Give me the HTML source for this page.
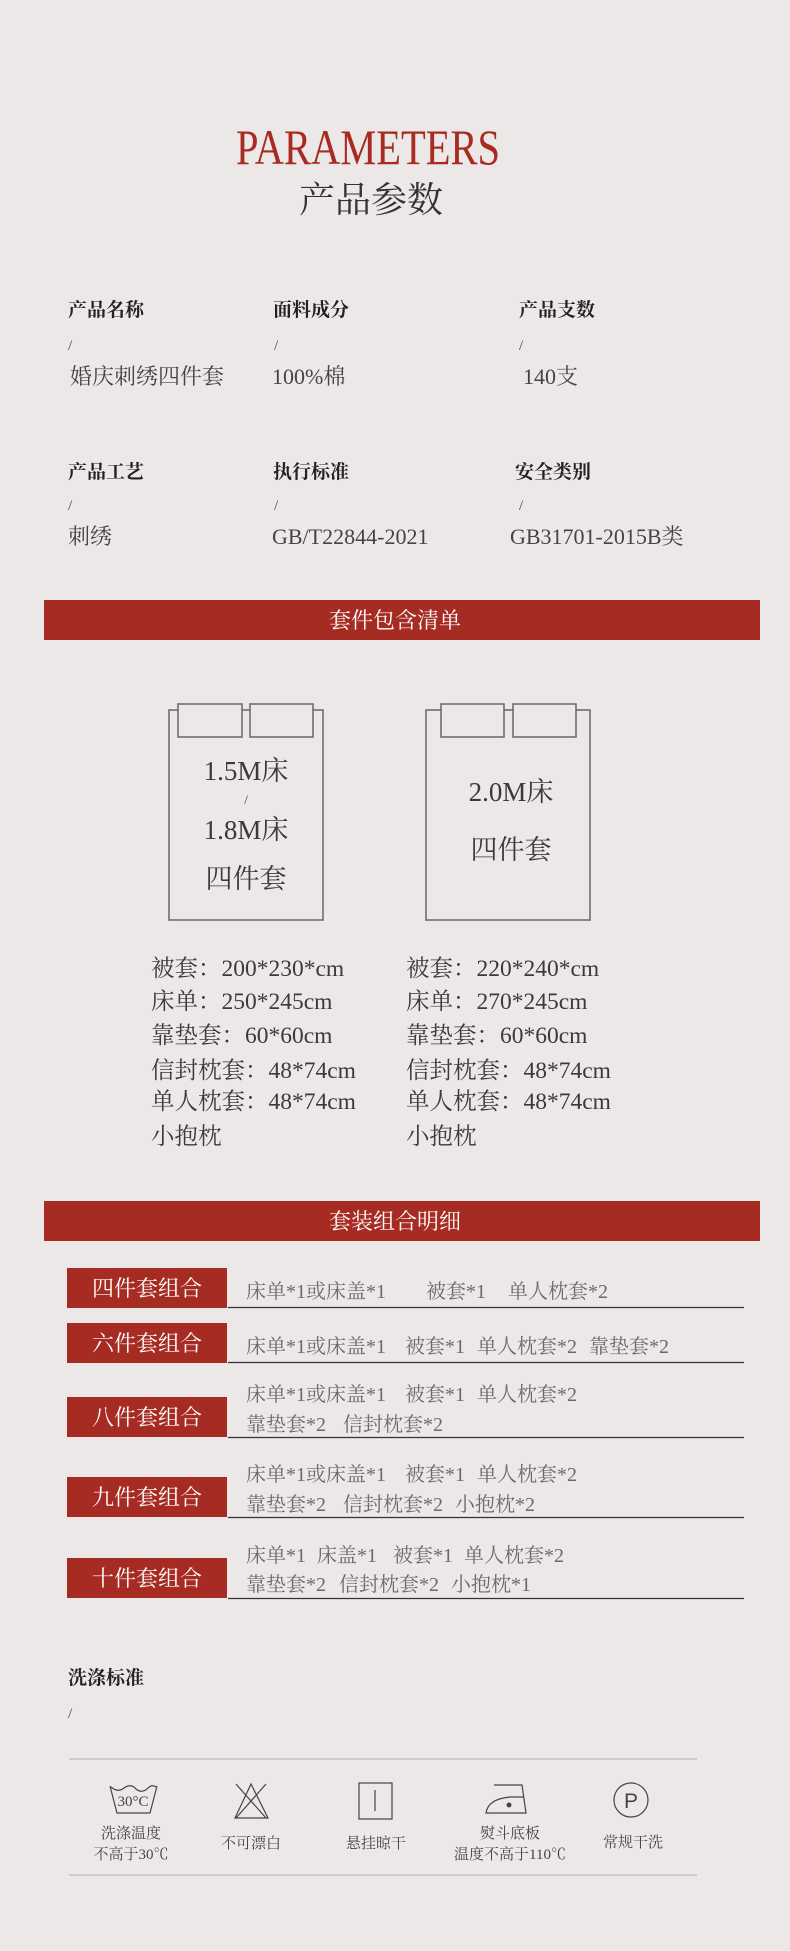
<!DOCTYPE html>
<html><head><meta charset="utf-8">
<style>
html,body{margin:0;padding:0;background:#ece8e7;}
svg{display:block;}
.s{font-family:"Liberation Serif","Noto Serif CJK SC",serif;}
.lb{font-family:"Liberation Serif","Noto Serif CJK SC",serif;font-weight:bold;font-size:19px;fill:#222;}
.v{font-family:"Liberation Serif","Noto Serif CJK SC",serif;font-size:22px;fill:#444;}
.sl{font-family:"Liberation Serif",serif;font-size:15px;fill:#444;}
.sp{font-family:"Liberation Serif","Noto Serif CJK SC",serif;font-size:23.5px;fill:#3a3a3a;}
.cb{font-family:"Liberation Serif","Noto Serif CJK SC",serif;font-size:20px;fill:#6a6a6a;}
.wl{font-family:"Liberation Serif","Noto Serif CJK SC",serif;font-size:22px;fill:#fff;}
.ic{font-family:"Liberation Serif","Noto Serif CJK SC",serif;font-size:15px;fill:#444;}
</style></head>
<body>
<svg width="790" height="1951" viewBox="0 0 790 1951" xmlns="http://www.w3.org/2000/svg">
<rect width="790" height="1951" fill="#ece8e7"/>
<text x="236" y="164" class="s" font-size="50" fill="#a82a22" textLength="264" lengthAdjust="spacingAndGlyphs">PARAMETERS</text>
<text x="371" y="212" class="s" font-size="36" fill="#333" text-anchor="middle">产品参数</text>

<text x="68" y="316" class="lb">产品名称</text>
<text x="273" y="316" class="lb">面料成分</text>
<text x="519" y="316" class="lb">产品支数</text>
<text x="68" y="350" class="sl">/</text><text x="274" y="350" class="sl">/</text><text x="519" y="350" class="sl">/</text>
<text x="70" y="384" class="v">婚庆刺绣四件套</text>
<text x="272" y="384" class="v">100%棉</text>
<text x="523" y="384" class="v">140支</text>

<text x="68" y="478" class="lb">产品工艺</text>
<text x="273" y="478" class="lb">执行标准</text>
<text x="515" y="478" class="lb">安全类别</text>
<text x="68" y="510" class="sl">/</text><text x="274" y="510" class="sl">/</text><text x="519" y="510" class="sl">/</text>
<text x="68" y="544" class="v">刺绣</text>
<text x="272" y="544" class="v">GB/T22844-2021</text>
<text x="510" y="544" class="v">GB31701-2015B类</text>

<rect x="44" y="600" width="716" height="40" fill="#a52b23"/>
<text x="395" y="628" class="wl" text-anchor="middle">套件包含清单</text>

<g fill="none" stroke="#666" stroke-width="1.5">
<rect x="169" y="710" width="154" height="210"/>
<rect x="178" y="704" width="64" height="33" fill="#ece8e7"/>
<rect x="250" y="704" width="63" height="33" fill="#ece8e7"/>
<rect x="426" y="710" width="164" height="210"/>
<rect x="441" y="704" width="63" height="33" fill="#ece8e7"/>
<rect x="513" y="704" width="63" height="33" fill="#ece8e7"/>
</g>
<g class="sp" text-anchor="middle">
<text x="246" y="780" font-size="27">1.5M床</text>
<text x="246" y="804" font-size="13">/</text>
<text x="246" y="839" font-size="27">1.8M床</text>
<text x="246" y="888" font-size="27">四件套</text>
<text x="511" y="801" font-size="27">2.0M床</text>
<text x="511" y="859" font-size="27">四件套</text>
</g>
<g class="sp">
<text x="151" y="976">被套：200*230*cm</text>
<text x="151" y="1009">床单：250*245cm</text>
<text x="151" y="1043">靠垫套：60*60cm</text>
<text x="151" y="1078">信封枕套：48*74cm</text>
<text x="151" y="1109">单人枕套：48*74cm</text>
<text x="151" y="1144">小抱枕</text>
<text x="406" y="976">被套：220*240*cm</text>
<text x="406" y="1009">床单：270*245cm</text>
<text x="406" y="1043">靠垫套：60*60cm</text>
<text x="406" y="1078">信封枕套：48*74cm</text>
<text x="406" y="1109">单人枕套：48*74cm</text>
<text x="406" y="1144">小抱枕</text>
</g>

<rect x="44" y="1201" width="716" height="40" fill="#a52b23"/>
<text x="395" y="1229" class="wl" text-anchor="middle">套装组合明细</text>

<g fill="#a52b23">
<rect x="67" y="1268" width="160" height="40"/>
<rect x="67" y="1323" width="160" height="40"/>
<rect x="67" y="1397" width="160" height="40"/>
<rect x="67" y="1477" width="160" height="40"/>
<rect x="67" y="1558" width="160" height="40"/>
</g>
<g class="wl" text-anchor="middle">
<text x="147" y="1296">四件套组合</text>
<text x="147" y="1351">六件套组合</text>
<text x="147" y="1425">八件套组合</text>
<text x="147" y="1505">九件套组合</text>
<text x="147" y="1586">十件套组合</text>
</g>
<g stroke="#333" stroke-width="1.3">
<line x1="228" y1="1307.5" x2="744" y2="1307.5"/>
<line x1="228" y1="1362.5" x2="744" y2="1362.5"/>
<line x1="228" y1="1437.5" x2="744" y2="1437.5"/>
<line x1="228" y1="1517.5" x2="744" y2="1517.5"/>
<line x1="228" y1="1598.5" x2="744" y2="1598.5"/>
</g>
<g class="cb">
<text x="246" y="1298">床单*1或床盖*1</text><text x="426" y="1298">被套*1</text><text x="508" y="1298">单人枕套*2</text>
<text x="246" y="1353">床单*1或床盖*1</text><text x="405" y="1353">被套*1</text><text x="477" y="1353">单人枕套*2</text><text x="589" y="1353">靠垫套*2</text>
<text x="246" y="1401">床单*1或床盖*1</text><text x="405" y="1401">被套*1</text><text x="477" y="1401">单人枕套*2</text>
<text x="246" y="1431">靠垫套*2</text><text x="343" y="1431">信封枕套*2</text>
<text x="246" y="1481">床单*1或床盖*1</text><text x="405" y="1481">被套*1</text><text x="477" y="1481">单人枕套*2</text>
<text x="246" y="1511">靠垫套*2</text><text x="343" y="1511">信封枕套*2</text><text x="455" y="1511">小抱枕*2</text>
<text x="246" y="1562">床单*1</text><text x="317" y="1562">床盖*1</text><text x="393" y="1562">被套*1</text><text x="464" y="1562">单人枕套*2</text>
<text x="246" y="1591">靠垫套*2</text><text x="339" y="1591">信封枕套*2</text><text x="451" y="1591">小抱枕*1</text>
</g>

<text x="68" y="1684" class="lb">洗涤标准</text>
<text x="68" y="1718" class="sl">/</text>
<line x1="69" y1="1759" x2="697" y2="1759" stroke="#bbb" stroke-width="1.2"/>
<line x1="69" y1="1875" x2="697" y2="1875" stroke="#bbb" stroke-width="1.2"/>

<g fill="none" stroke="#444" stroke-width="1.2">
<path d="M110 1786 L117 1813 L150 1813 L157 1786"/>
<path d="M111 1787 Q118 1793 124 1788 Q131 1783 136 1789 Q142 1794 148 1788 Q152 1784 156 1787"/>
<path d="M236 1784 L266 1818 M266 1784 L236 1818 M251 1784 L235 1818 L268 1818 Z"/>
<rect x="359" y="1783" width="33" height="36"/>
<line x1="375" y1="1790" x2="375" y2="1811"/>
<path d="M494 1785 L522 1785 L526 1813 L486 1813 Q488 1799 510 1797 L524 1797"/>
<circle cx="631" cy="1800" r="17"/>
</g>
<circle cx="509" cy="1805" r="2.5" fill="#444"/>
<text x="133" y="1806" class="ic" font-size="10" text-anchor="middle">30°C</text>
<text x="631" y="1808" font-family="Liberation Sans, sans-serif" font-size="21" fill="#444" text-anchor="middle">P</text>

<g class="ic" text-anchor="middle">
<text x="131" y="1838">洗涤温度</text>
<text x="131" y="1859">不高于30℃</text>
<text x="251" y="1848">不可漂白</text>
<text x="376" y="1848">悬挂晾干</text>
<text x="510" y="1838">熨斗底板</text>
<text x="510" y="1859">温度不高于110℃</text>
<text x="633" y="1847">常规干洗</text>
</g>
</svg>
</body></html>
